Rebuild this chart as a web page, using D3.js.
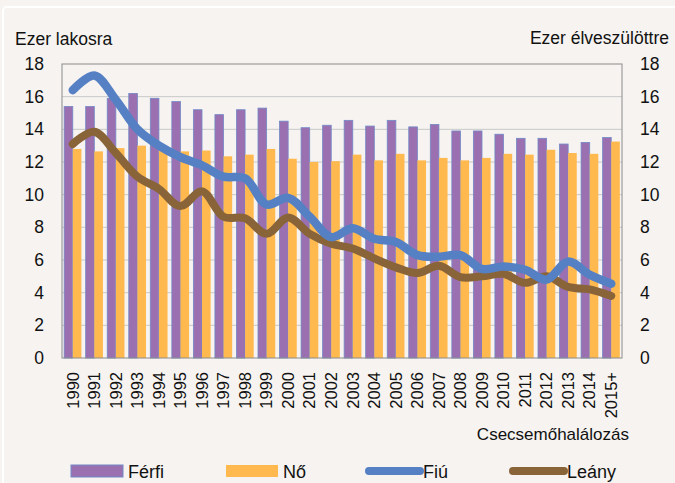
<!DOCTYPE html>
<html>
<head>
<meta charset="utf-8">
<script src="https://cdn.jsdelivr.net/npm/d3@7"></script>
<style>
  body { margin: 0; background: #f6f3f0; }
  text { font-family: 'Liberation Sans', Arial, sans-serif; fill: #111; }
</style>
</head>
<body>
<div id="canvas"></div>
<script>
const years = ['1990', '1991', '1992', '1993', '1994', '1995', '1996', '1997', '1998', '1999',
    '2000', '2001', '2002', '2003', '2004', '2005', '2006', '2007', '2008', '2009',
    '2010', '2011', '2012', '2013', '2014', '2015+'];
const ferfi = [15.4, 15.4, 15.9, 16.2, 15.9, 15.7, 15.2, 14.9, 15.2, 15.3,
    14.5, 14.1, 14.25, 14.55, 14.2, 14.55, 14.15, 14.3, 13.9, 13.9,
    13.7, 13.45, 13.45, 13.1, 13.2, 13.5];
const no = [12.8, 12.65, 12.85, 13.0, 12.7, 12.65, 12.7, 12.35, 12.45, 12.8,
    12.2, 12.0, 12.05, 12.45, 12.1, 12.5, 12.1, 12.25, 12.1, 12.25,
    12.5, 12.45, 12.75, 12.55, 12.5, 13.25];
const fiu = [16.4, 17.3, 15.8, 14.0, 13.0, 12.3, 11.8, 11.1, 11.0, 9.4,
    9.8, 8.65, 7.4, 7.95, 7.3, 7.1, 6.3, 6.2, 6.3, 5.45,
    5.6, 5.4, 4.8, 5.9, 5.1, 4.55];
const leany = [13.1, 13.85, 12.55, 11.1, 10.35, 9.3, 10.2, 8.65, 8.55, 7.6,
    8.6, 7.6, 7.0, 6.7, 6.1, 5.55, 5.2, 5.65, 4.95, 5.0,
    5.15, 4.6, 5.0, 4.35, 4.2, 3.8];
const yTicks = [0, 2, 4, 6, 8, 10, 12, 14, 16, 18];

const w = 675,
    h = 483,
    m = { left: 62, right: 622, top: 64, bottom: 358 },
    bg = '#f6f3f0',
    cFerfi = '#9a70b0',
    cNo = '#ffb94f',
    cFiu = '#5581c4',
    cLeany = '#8a6439';

const svg = d3.select('#canvas').append('svg')
    .attr('width', w)
    .attr('height', h);

svg.append('rect')
    .attr('width', w).attr('height', h)
    .style('fill', bg);

// thin white frame
svg.append('rect')
    .attr('x', 3).attr('y', 7)
    .attr('width', w + 10).attr('height', h + 10)
    .attr('rx', 4)
    .style('fill', 'none')
    .style('stroke', '#ffffff')
    .style('stroke-width', 2);

const x = d3.scaleBand()
    .domain(years)
    .range([m.left, m.right])
    .paddingInner(0.2)
    .paddingOuter(0.1);

const xs = d3.scaleBand()
    .domain(['ferfi', 'no'])
    .range([0, x.bandwidth()]);

const y = d3.scaleLinear()
    .domain([0, 18])
    .range([m.bottom, m.top]);

// gridlines
svg.append('g')
    .selectAll('line')
    .data(yTicks.slice(1, -1))
    .join('line')
    .attr('x1', m.left).attr('x2', m.right)
    .attr('y1', d => y(d)).attr('y2', d => y(d))
    .style('stroke', '#c9c9c9')
    .style('stroke-width', 1);

// bars
const groups = svg.append('g')
    .selectAll('g')
    .data(years)
    .join('g')
    .attr('transform', d => 'translate(' + x(d) + ',0)');

groups.append('rect')
    .attr('x', xs('ferfi'))
    .attr('width', xs.bandwidth())
    .attr('y', (d, i) => y(ferfi[i]))
    .attr('height', (d, i) => y(0) - y(ferfi[i]))
    .style('fill', cFerfi)
    .style('stroke', '#7189c8')
    .style('stroke-width', 0.8);

groups.append('rect')
    .attr('x', xs('no'))
    .attr('width', xs.bandwidth())
    .attr('y', (d, i) => y(no[i]))
    .attr('height', (d, i) => y(0) - y(no[i]))
    .style('fill', cNo);

// plot frame
svg.append('rect')
    .attr('x', m.left).attr('y', m.top)
    .attr('width', m.right - m.left).attr('height', m.bottom - m.top)
    .style('fill', 'none')
    .style('stroke', '#8c8c8c')
    .style('stroke-width', 1);

// smoothed lines
const line = d3.line()
    .x((d, i) => x(years[i]) + x.bandwidth() / 2)
    .y(d => y(d))
    .curve(d3.curveCatmullRom.alpha(0.5));

svg.append('path')
    .datum(leany)
    .attr('d', line)
    .style('fill', 'none')
    .style('stroke', cLeany)
    .style('stroke-width', 8)
    .style('stroke-linecap', 'round');

svg.append('path')
    .datum(fiu)
    .attr('d', line)
    .style('fill', 'none')
    .style('stroke', cFiu)
    .style('stroke-width', 8.5)
    .style('stroke-linecap', 'round');

// axes
const yLeft = svg.append('g')
    .attr('transform', 'translate(' + (m.left - 18) + ',0)')
    .call(d3.axisLeft(y).tickValues(yTicks).tickSize(0).tickPadding(0));
const yRight = svg.append('g')
    .attr('transform', 'translate(' + (m.right + 18) + ',0)')
    .call(d3.axisRight(y).tickValues(yTicks).tickSize(0).tickPadding(0));
[yLeft, yRight].forEach(a => {
    a.select('.domain').remove();
    a.selectAll('text')
        .attr('font-size', '17.5px')
        .attr('font-family', 'Liberation Sans, Arial, sans-serif')
        .attr('fill', '#111');
});

const xAxis = svg.append('g')
    .attr('transform', 'translate(0,' + m.bottom + ')')
    .call(d3.axisBottom(x).tickSize(0).tickPadding(0));
xAxis.select('.domain').remove();
xAxis.selectAll('text')
    .attr('font-size', '16.5px')
    .attr('font-family', 'Liberation Sans, Arial, sans-serif')
    .attr('fill', '#111')
    .attr('text-anchor', 'end')
    .attr('transform', 'rotate(-90)')
    .attr('x', -14)
    .attr('y', 0)
    .attr('dy', '0.35em');

// titles
svg.append('text')
    .attr('x', 15).attr('y', 45)
    .attr('font-size', '17.5px')
    .text('Ezer lakosra');

svg.append('text')
    .attr('x', 669).attr('y', 44)
    .attr('text-anchor', 'end')
    .attr('font-size', '17.5px')
    .text('Ezer élveszülöttre');

svg.append('text')
    .attr('x', 629).attr('y', 440)
    .attr('text-anchor', 'end')
    .attr('font-size', '17px')
    .text('Csecsemőhalálozás');

// legend
const legendItems = [
    { name: 'Férfi', color: cFerfi, type: 'bar', x: 71 },
    { name: 'Nő', color: cNo, type: 'bar', x: 226 },
    { name: 'Fiú', color: cFiu, type: 'line', x: 366 },
    { name: 'Leány', color: cLeany, type: 'line', x: 510 }
];

const legend = svg.append('g')
    .selectAll('g')
    .data(legendItems)
    .join('g')
    .attr('transform', d => 'translate(' + d.x + ',471)');

legend.filter(d => d.type === 'bar')
    .append('rect')
    .attr('x', 0).attr('y', -6)
    .attr('width', 52).attr('height', 12)
    .style('fill', d => d.color)
    .style('stroke', d => d.name === 'Férfi' ? '#7189c8' : 'none');

legend.filter(d => d.type === 'line')
    .append('line')
    .attr('x1', 3).attr('x2', 54)
    .attr('y1', 0).attr('y2', 0)
    .style('stroke', d => d.color)
    .style('stroke-width', 8)
    .style('stroke-linecap', 'round');

legend.append('text')
    .attr('x', 57).attr('y', 6.5)
    .attr('font-size', '18px')
    .text(d => d.name);
</script>
</body>
</html>
